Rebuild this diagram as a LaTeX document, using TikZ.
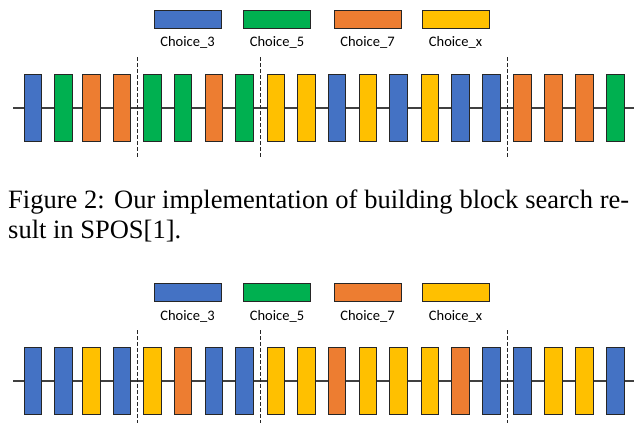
\documentclass[tikz,border=0pt]{standalone}
\usepackage{fontspec}
\setmainfont{Liberation Serif}
\newfontfamily\calibri{Carlito}

\definecolor{cblue}{HTML}{4472C4}
\definecolor{cgreen}{HTML}{00B050}
\definecolor{corange}{HTML}{ED7D31}
\definecolor{cyellow}{HTML}{FFC000}

\tikzset{
	blk/.style={draw=black!85,line width=0.9pt,inner sep=0pt,minimum width=17.5pt,minimum height=67pt},
	leg/.style={draw=black!85,line width=0.9pt,inner sep=0pt,minimum width=67pt,minimum height=18pt},
	lbl/.style={font=\calibri\fontsize{14.5}{16}\selectfont,inner sep=0pt,label distance=8pt},
	axis/.style={draw=black!75,line width=1.1pt},
	cut/.style={draw=black!85,line width=0.9pt,dash pattern=on 3.5pt off 2.5pt}
}

\begin{document}
\begin{tikzpicture}[x=1pt,y=-1pt]
		\useasboundingbox (0,0) rectangle (637,423);
		
		% upper search result
		\node[leg,fill=cblue,label={[lbl]below:Choice\_3}] (k3) at (187.5,19) {};
		\node[leg,fill=cgreen,label={[lbl]below:Choice\_5}] (k5) at (277,19) {};
		\node[leg,fill=corange,label={[lbl]below:Choice\_7}] (k7) at (367.5,19) {};
		\node[leg,fill=cyellow,label={[lbl]below:Choice\_x}] (kx) at (455.5,19) {};
		
		\coordinate (al) at (13,108);
		\coordinate (ar) at (634,108);
		\draw[axis] (al) -- (ar);
		
		\node[blk,fill=cblue] (a1) at (33,108) {};
		\node[blk,fill=cgreen] (a2) at (63.5,108) {};
		\node[blk,fill=corange] (a3) at (91.5,108) {};
		\node[blk,fill=corange] (a4) at (122,108) {};
		\node[blk,fill=cgreen] (a5) at (152.5,108) {};
		\node[blk,fill=cgreen] (a6) at (183,108) {};
		\node[blk,fill=corange] (a7) at (214,108) {};
		\node[blk,fill=cgreen] (a8) at (244.5,108) {};
		\node[blk,fill=cyellow] (a9) at (276,108) {};
		\node[blk,fill=cyellow] (a10) at (306.5,108) {};
		\node[blk,fill=cblue] (a11) at (337,108) {};
		\node[blk,fill=cyellow] (a12) at (368,108) {};
		\node[blk,fill=cblue] (a13) at (398.5,108) {};
		\node[blk,fill=cyellow] (a14) at (430,108) {};
		\node[blk,fill=cblue] (a15) at (460.5,108) {};
		\node[blk,fill=cblue] (a16) at (491.5,108) {};
		\node[blk,fill=corange] (a17) at (522.5,108) {};
		\node[blk,fill=corange] (a18) at (553.5,108) {};
		\node[blk,fill=corange] (a19) at (584.5,108) {};
		\node[blk,fill=cgreen] (a20) at (615.5,108) {};
		
		\coordinate (at1) at (137,57);
		\coordinate (ab1) at (137,157);
		\coordinate (at2) at (260,57);
		\coordinate (ab2) at (260,157);
		\coordinate (at3) at (507,57);
		\coordinate (ab3) at (507,157);
		\draw[cut] (at1) -- (ab1);
		\draw[cut] (at2) -- (ab2);
		\draw[cut] (at3) -- (ab3);
		
		% caption
		\node[anchor=base west,inner sep=0pt] (cap1) at (8,208) {\fontsize{26.5}{30}\selectfont\makebox[621pt][s]{Figure 2: Our implementation of building block search re-}};
		\node[anchor=base west,inner sep=0pt] (cap2) at (8,238) {\fontsize{26.5}{30}\selectfont sult in SPOS[1].};
		
		% lower search result
		\node[leg,fill=cblue,label={[lbl]below:Choice\_3}] (m3) at (187.5,292.5) {};
		\node[leg,fill=cgreen,label={[lbl]below:Choice\_5}] (m5) at (277,292.5) {};
		\node[leg,fill=corange,label={[lbl]below:Choice\_7}] (m7) at (367.5,292.5) {};
		\node[leg,fill=cyellow,label={[lbl]below:Choice\_x}] (mx) at (455.5,292.5) {};
		
		\coordinate (bl) at (13,381);
		\coordinate (br) at (634,381);
		\draw[axis] (bl) -- (br);
		
		\node[blk,fill=cblue] (b1) at (33,381) {};
		\node[blk,fill=cblue] (b2) at (63.5,381) {};
		\node[blk,fill=cyellow] (b3) at (91.5,381) {};
		\node[blk,fill=cblue] (b4) at (122,381) {};
		\node[blk,fill=cyellow] (b5) at (152.5,381) {};
		\node[blk,fill=corange] (b6) at (183,381) {};
		\node[blk,fill=cblue] (b7) at (214,381) {};
		\node[blk,fill=cblue] (b8) at (244.5,381) {};
		\node[blk,fill=cyellow] (b9) at (276,381) {};
		\node[blk,fill=cyellow] (b10) at (306.5,381) {};
		\node[blk,fill=corange] (b11) at (337,381) {};
		\node[blk,fill=cyellow] (b12) at (368,381) {};
		\node[blk,fill=cyellow] (b13) at (398.5,381) {};
		\node[blk,fill=cyellow] (b14) at (430,381) {};
		\node[blk,fill=corange] (b15) at (460.5,381) {};
		\node[blk,fill=cblue] (b16) at (491.5,381) {};
		\node[blk,fill=cblue] (b17) at (522.5,381) {};
		\node[blk,fill=cyellow] (b18) at (553.5,381) {};
		\node[blk,fill=cyellow] (b19) at (584.5,381) {};
		\node[blk,fill=cblue] (b20) at (615.5,381) {};
		
		\coordinate (bt1) at (137,330);
		\coordinate (bb1) at (137,423);
		\coordinate (bt2) at (260,330);
		\coordinate (bb2) at (260,423);
		\coordinate (bt3) at (507,330);
		\coordinate (bb3) at (507,423);
		\draw[cut] (bt1) -- (bb1);
		\draw[cut] (bt2) -- (bb2);
		\draw[cut] (bt3) -- (bb3);
		\end{tikzpicture}
\end{document}
